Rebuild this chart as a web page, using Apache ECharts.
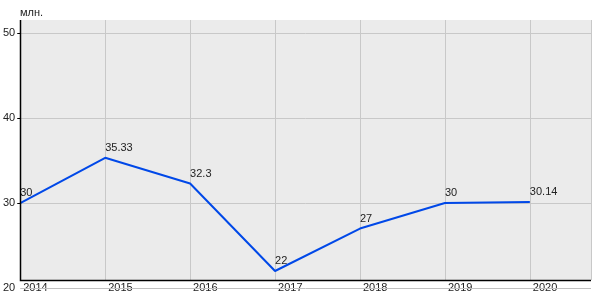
<!DOCTYPE html>
<html><head><meta charset="utf-8">
<script src="https://cdn.jsdelivr.net/npm/echarts@6/dist/echarts.min.js"></script>
<style>html,body{margin:0;padding:0;background:#fff}#c{width:600px;height:300px}</style>
</head><body><div id="c"></div>
<script>
var years = [2014, 2015, 2016, 2017, 2018, 2019, 2020];
var values = [30, 35.33, 32.3, 22, 27, 30, 30.14];
var unitLabel = 'млн.';
var yTickValues = [30, 40, 50];
var yMin = 20;

var chart = echarts.init(document.getElementById('c'));
var G = {left: 20, top: 20, right: 9, bottom: 12};
var plotBottom = 280;
var G2 = {left: G.left, top: G.top, right: G.right, bottom: 300 - plotBottom};
var xMin = 2014, xMax = 2020.72;
chart.setOption({
  animation: false,
  textStyle: {fontFamily: 'Liberation Sans, Arial, sans-serif'},
  graphic: [
    {type: 'rect', z: -10, silent: true,
     shape: {x: G.left, y: G.top, width: 600 - G.left - G.right, height: plotBottom - G.top},
     style: {fill: '#ebebeb'}},
    {type: 'polyline', z: 10, silent: true,
     shape: {points: [[G.left + 0.5, G.top], [G.left + 0.5, plotBottom + 0.5], [600 - G.right, plotBottom + 0.5]]},
     style: {stroke: '#000', lineWidth: 1.5, fill: null}},
    {type: 'text', left: 20, top: 7,
     style: {text: unitLabel, fill: '#222', font: '11px Liberation Sans, Arial, sans-serif'}}
  ],
  grid: [G, G2],
  xAxis: [{
    gridIndex: 0, type: 'value', min: xMin, max: xMax, interval: 1,
    axisLine: {show: false}, axisTick: {show: false},
    axisLabel: {color: '#222', fontSize: 11, align: 'left', verticalAlign: 'middle', margin: 0,
      padding: [1, 0, 0, 3], showMaxLabel: false, formatter: function (v) { return String(v); }},
    splitLine: {show: false}
  }, {
    gridIndex: 1, type: 'value', min: xMin, max: xMax, interval: 1,
    axisLine: {show: false}, axisTick: {show: false}, axisLabel: {show: false},
    splitLine: {show: true, lineStyle: {color: '#c8c8c8', width: 1}}
  }],
  yAxis: [{
    gridIndex: 0, type: 'value', min: yMin, max: 51.56, interval: 10,
    axisLine: {show: false},
    axisTick: {show: true, length: 3, customValues: yTickValues, lineStyle: {color: '#000'}},
    axisLabel: {color: '#222', fontSize: 11, margin: 5, verticalAlign: 'middle', padding: [0, 0, 7, 0],
      showMaxLabel: false},
    splitLine: {show: true, lineStyle: {color: '#c8c8c8', width: 1}}
  }, {
    gridIndex: 1, type: 'value', min: 0, max: 10, show: false
  }],
  series: [{
    type: 'line', xAxisIndex: 0, yAxisIndex: 0,
    data: years.map(function (y, i) { return [y, values[i]]; }),
    lineStyle: {color: '#0048e8', width: 2},
    itemStyle: {color: '#0048e8'},
    symbol: 'circle', symbolSize: 0.1, showSymbol: true,
    label: {show: true, position: 'top', align: 'left', verticalAlign: 'bottom', distance: 4,
      color: '#222', fontSize: 11, lineHeight: 12,
      formatter: function (p) { return String(p.value[1]); }},
    markLine: {
      silent: true, symbol: 'none', animation: false, z: 1,
      label: {show: false},
      lineStyle: {color: '#c0c0c0', width: 1, type: 'solid'},
      data: [{yAxis: yMin}]
    }
  }]
});
</script></body></html>
